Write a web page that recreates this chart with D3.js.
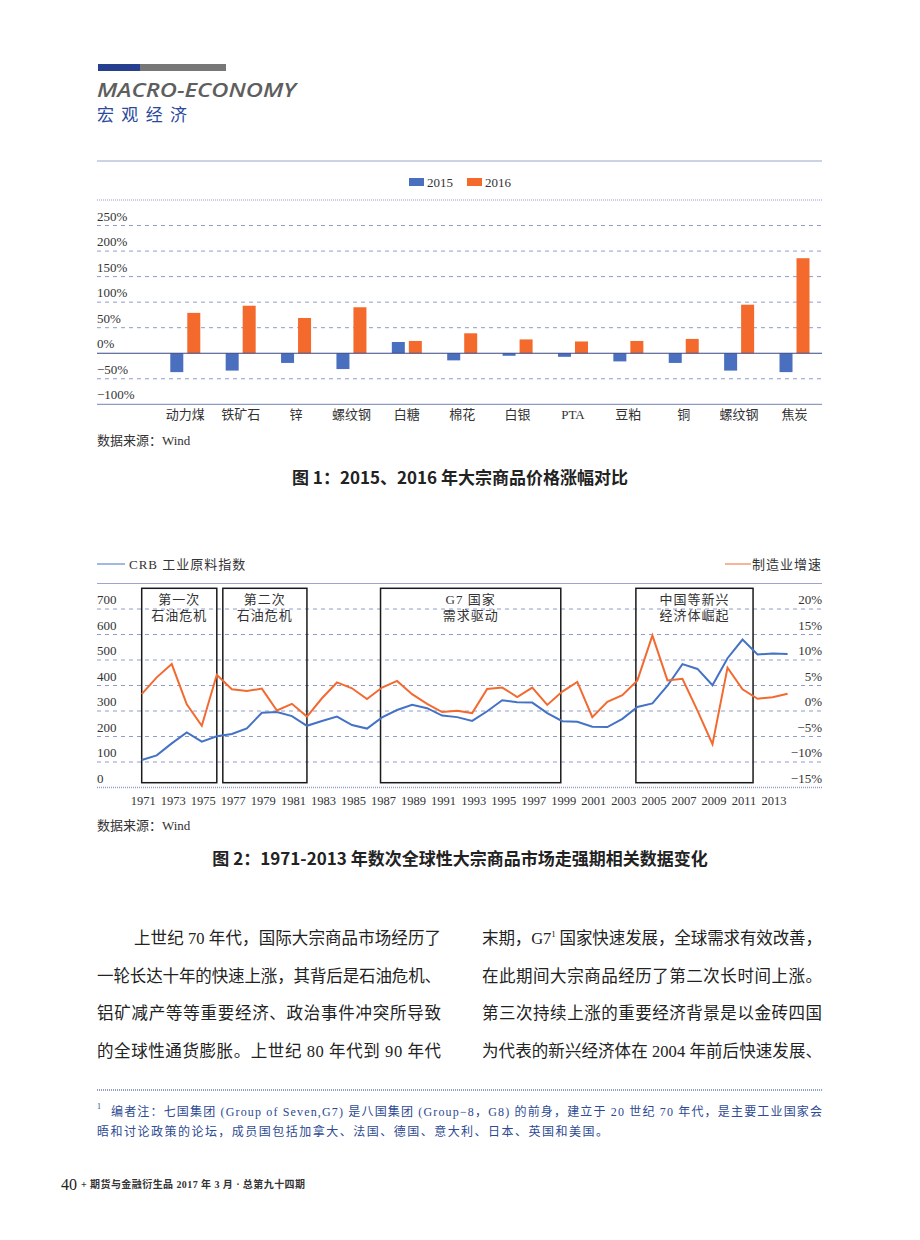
<!DOCTYPE html>
<html>
<head>
<meta charset="utf-8">
<script src="https://cdnjs.cloudflare.com/ajax/libs/d3/7.8.5/d3.min.js"></script>
<style>
  body { margin: 0; background: #fff; }
  svg { display: block; }
  .serif { font-family: "Liberation Serif", "Noto Sans CJK SC", serif; }
  .cjk { font-family: "Liberation Serif", "Noto Sans CJK SC", sans-serif; }
</style>
</head>
<body>
<div id="page"></div>
<script>
// ---- chart 1 data ----
const categories = ['动力煤', '铁矿石', '锌', '螺纹钢', '白糖', '棉花', '白银', 'PTA', '豆粕', '铜', '螺纹钢', '焦炭'];
const seriesNames = ['2015', '2016'];
const v2015 = [-37, -34, -19, -31, 22, -14, -5, -7, -16, -19, -34, -37];
const v2016 = [79, 93, 69, 90, 24, 39, 27, 23, 24, 28, 95, 186];
const pctTicks = [-100, -50, 0, 50, 100, 150, 200, 250];

// ---- chart 2 data ----
const years = [1971, 1972, 1973, 1974, 1975, 1976, 1977, 1978, 1979, 1980,
  1981, 1982, 1983, 1984, 1985, 1986, 1987, 1988, 1989, 1990,
  1991, 1992, 1993, 1994, 1995, 1996, 1997, 1998, 1999, 2000,
  2001, 2002, 2003, 2004, 2005, 2006, 2007, 2008, 2009, 2010,
  2011, 2012, 2013, 2014];
const crb = [108, 126, 173, 216, 180, 201, 210, 232, 293, 296,
  280, 242, 261, 278, 245, 231, 275, 304, 324, 311,
  282, 276, 261, 299, 342, 334, 333, 292, 260, 258,
  238, 237, 269, 316, 330, 399, 484, 465, 401, 507,
  580, 522, 525, 524];
const mfg = [3.3, 6.6, 9.2, 1.3, -2.9, 7.1, 4.25, 3.9, 4.4, 0.1,
  1.4, -1.1, 2.5, 5.6, 4.45, 2.35, 4.6, 5.9, 3.3, 1.4,
  -0.2, 0.06, -0.4, 4.3, 4.6, 2.75, 4.6, 1.2, 3.8, 5.7,
  -1.2, 1.8, 3.1, 6.0, 14.8, 6.0, 6.3, 0.06, -6.5, 8.5,
  4.25, 2.4, 2.7, 3.4];
const xTickYears = [1971, 1973, 1975, 1977, 1979, 1981, 1983, 1985, 1987, 1989, 1991,
  1993, 1995, 1997, 1999, 2001, 2003, 2005, 2007, 2009, 2011, 2013];
const leftTicks = [0, 100, 200, 300, 400, 500, 600, 700];
const rightTicks = [-15, -10, -5, 0, 5, 10, 15, 20];
const periodStart = [1971, 1976.4, 1986.9, 2003.9];
const periodEnd = [1976, 1982, 1998.9, 2011.7];
const periodLine1 = ['第一次', '第二次', 'G7 国家', '中国等新兴'];
const periodLine2 = ['石油危机', '石油危机', '需求驱动', '经济体崛起'];

const blue = '#4472c4', orange = '#f26a30', barOrange = '#f36a2c', barBlue = '#4a6fbf';
const gridCol = '#8e9ccb', textCol = '#333';

const svg = d3.select('#page').append('svg')
  .attr('width', 920).attr('height', 1240);

// ---- page header ----
svg.append('rect').attr('x', 98).attr('y', 64).attr('width', 42).attr('height', 7).attr('fill', '#263f8f');
svg.append('rect').attr('x', 140).attr('y', 64).attr('width', 86).attr('height', 7).attr('fill', '#777');
svg.append('text').attr('x', 97).attr('y', 97)
  .attr('font-family', 'Open Sans, sans-serif').attr('font-style', 'italic').attr('font-weight', 600)
  .attr('font-size', 19).attr('fill', '#5e5e5e')
  .attr('textLength', 199).attr('lengthAdjust', 'spacingAndGlyphs')
  .text('MACRO-ECONOMY');
svg.append('text').attr('x', 97).attr('y', 121)
  .attr('font-family', 'Noto Sans CJK SC, sans-serif').attr('font-size', 17).attr('fill', '#2a4a9c')
  .attr('textLength', 90).attr('lengthAdjust', 'spacing')
  .text('宏观经济');

// ================= chart 1 =================
const g1 = svg.append('g');
const y1 = d3.scaleLinear().domain([-100, 300]).range([404.3, 200]);
const x0 = d3.scaleBand().domain(d3.range(categories.length)).range([157.6, 822.2]);
const bw = x0.bandwidth();
const x1 = d3.scaleBand().domain(seriesNames).range([bw / 2 - 15, bw / 2 + 15]).paddingInner(0.235);

g1.append('line').attr('x1', 97).attr('x2', 822).attr('y1', 161).attr('y2', 161)
  .attr('stroke', '#9aa6cc').attr('stroke-width', 1);
// top dotted line
g1.append('line').attr('x1', 97).attr('x2', 822).attr('y1', y1(300)).attr('y2', y1(300))
  .attr('stroke', gridCol).attr('stroke-width', 1.2).attr('stroke-dasharray', '1,1');
// gridlines
g1.selectAll('.grid1').data(pctTicks.filter(d => d > -100 && d !== 0)).join('line')
  .attr('x1', 97).attr('x2', 822).attr('y1', d => y1(d)).attr('y2', d => y1(d))
  .attr('stroke', gridCol).attr('stroke-dasharray', '4,4');
g1.append('line').attr('x1', 97).attr('x2', 822).attr('y1', y1(-100)).attr('y2', y1(-100))
  .attr('stroke', '#8e9cc4').attr('stroke-width', 1.2);
g1.selectAll('.ylab1').data(pctTicks).join('text')
  .attr('class', 'serif').attr('x', 97).attr('y', d => y1(d) - 5)
  .attr('font-size', 13).attr('fill', textCol)
  .text(d => (d < 0 ? '−' + Math.abs(d) : d) + '%');

// bars
const barData = [];
categories.forEach((c, i) => {
  barData.push({ i, s: '2015', v: v2015[i] });
  barData.push({ i, s: '2016', v: v2016[i] });
});
g1.selectAll('.bar').data(barData).join('rect')
  .attr('x', d => x0(d.i) + x1(d.s))
  .attr('width', x1.bandwidth())
  .attr('y', d => y1(Math.max(0, d.v)))
  .attr('height', d => Math.abs(y1(d.v) - y1(0)))
  .attr('fill', d => d.s === '2015' ? barBlue : barOrange);
g1.append('line').attr('x1', 97).attr('x2', 822).attr('y1', y1(0)).attr('y2', y1(0))
  .attr('stroke', '#3a4785').attr('stroke-width', 1.2);

g1.selectAll('.cat').data(categories).join('text')
  .attr('class', 'cjk').attr('x', (d, i) => x0(i) + bw / 2).attr('y', 419)
  .attr('text-anchor', 'middle').attr('font-size', 13).attr('fill', textCol)
  .text(d => d);

// legend
const leg1 = g1.selectAll('.leg1').data(seriesNames).join('g')
  .attr('transform', (d, i) => `translate(${409 + i * 58},0)`);
leg1.append('rect').attr('x', 0).attr('y', 178).attr('width', 15).attr('height', 8)
  .attr('fill', (d, i) => i === 0 ? barBlue : barOrange);
leg1.append('text').attr('class', 'serif').attr('x', 18).attr('y', 187)
  .attr('font-size', 13).attr('fill', textCol).text(d => d);

svg.append('text').attr('class', 'cjk').attr('x', 97).attr('y', 445)
  .attr('font-size', 13).attr('fill', textCol).text('数据来源：Wind');
svg.append('text').attr('x', 460).attr('y', 484).attr('text-anchor', 'middle')
  .attr('font-family', 'Noto Sans CJK SC, sans-serif').attr('font-weight', 700)
  .attr('font-size', 17).attr('fill', '#222')
  .text('图 1：2015、2016 年大宗商品价格涨幅对比');

// ================= chart 2 =================
const g2 = svg.append('g');
const x2 = d3.scaleLinear().domain([1971, 2014]).range([141.7, 787.6]);
const yL = d3.scaleLinear().domain([0, 800]).range([787.5, 583.5]);
const yR = d3.scaleLinear().domain([-15, 25]).range([787.5, 583.5]);

g2.append('line').attr('x1', 97).attr('x2', 822).attr('y1', yL(800)).attr('y2', yL(800))
  .attr('stroke', '#9aa6cc').attr('stroke-width', 1);
g2.selectAll('.grid2').data(leftTicks.filter(d => d > 0)).join('line')
  .attr('x1', 97).attr('x2', 822).attr('y1', d => yL(d)).attr('y2', d => yL(d))
  .attr('stroke', gridCol).attr('stroke-dasharray', '4,4');
g2.append('line').attr('x1', 97).attr('x2', 822).attr('y1', yL(0)).attr('y2', yL(0))
  .attr('stroke', gridCol).attr('stroke-width', 1.5).attr('stroke-dasharray', '1,1');

g2.selectAll('.ylabL').data(leftTicks).join('text')
  .attr('class', 'serif').attr('x', 97).attr('y', d => yL(d) - 5)
  .attr('font-size', 13).attr('fill', textCol).text(d => d);
g2.selectAll('.ylabR').data(rightTicks).join('text')
  .attr('class', 'serif').attr('x', 822).attr('y', d => yR(d) - 5).attr('text-anchor', 'end')
  .attr('font-size', 13).attr('fill', textCol)
  .text(d => (d < 0 ? '−' + Math.abs(d) : d) + '%');

g2.selectAll('.xlab').data(xTickYears).join('text')
  .attr('class', 'serif').attr('x', d => x2(d) + 1.5).attr('y', 805)
  .attr('text-anchor', 'middle').attr('font-size', 12.5).attr('fill', textCol).text(d => d);

// period boxes
g2.selectAll('.box').data(periodStart).join('rect')
  .attr('x', d => x2(d)).attr('width', (d, i) => x2(periodEnd[i]) - x2(d))
  .attr('y', 588.3).attr('height', 194.4)
  .attr('fill', 'none').attr('stroke', '#1a1a1a').attr('stroke-width', 1.5);
g2.selectAll('.boxT1').data(periodLine1).join('text')
  .attr('class', 'cjk').attr('x', (d, i) => (x2(periodStart[i]) + x2(periodEnd[i])) / 2)
  .attr('y', 604).attr('text-anchor', 'middle').attr('font-size', 13).attr('fill', textCol)
  .attr('letter-spacing', 1).text(d => d);
g2.selectAll('.boxT2').data(periodLine2).join('text')
  .attr('class', 'cjk').attr('x', (d, i) => (x2(periodStart[i]) + x2(periodEnd[i])) / 2)
  .attr('y', 620).attr('text-anchor', 'middle').attr('font-size', 13).attr('fill', textCol)
  .attr('letter-spacing', 1).text(d => d);

// lines
g2.append('path').datum(years)
  .attr('d', d3.line().x(d => x2(d)).y((d, i) => yL(crb[i])))
  .attr('fill', 'none').attr('stroke', blue).attr('stroke-width', 2);
g2.append('path').datum(years)
  .attr('d', d3.line().x(d => x2(d)).y((d, i) => yR(mfg[i])))
  .attr('fill', 'none').attr('stroke', orange).attr('stroke-width', 2);

// legend
g2.append('line').attr('x1', 97).attr('x2', 125).attr('y1', 564).attr('y2', 564)
  .attr('stroke', blue).attr('stroke-width', 1);
g2.append('text').attr('class', 'cjk').attr('x', 129).attr('y', 569)
  .attr('font-size', 13).attr('fill', textCol).attr('letter-spacing', 1).text('CRB 工业原料指数');
g2.append('line').attr('x1', 725).attr('x2', 751).attr('y1', 564).attr('y2', 564)
  .attr('stroke', orange).attr('stroke-width', 1);
g2.append('text').attr('class', 'cjk').attr('x', 822).attr('y', 569).attr('text-anchor', 'end')
  .attr('font-size', 13).attr('fill', textCol).attr('letter-spacing', 1).text('制造业增速');

svg.append('text').attr('class', 'cjk').attr('x', 97).attr('y', 830)
  .attr('font-size', 13).attr('fill', textCol).text('数据来源：Wind');
svg.append('text').attr('x', 460).attr('y', 865).attr('text-anchor', 'middle')
  .attr('font-family', 'Noto Sans CJK SC, sans-serif').attr('font-weight', 700)
  .attr('font-size', 17).attr('fill', '#222')
  .text('图 2：1971-2013 年数次全球性大宗商品市场走强期相关数据变化');

// ================= body text =================
const leftLines = ['上世纪 70 年代，国际大宗商品市场经历了', '一轮长达十年的快速上涨，其背后是石油危机、',
  '铝矿减产等等重要经济、政治事件冲突所导致', '的全球性通货膨胀。上世纪 80 年代到 90 年代'];
const rightLines = ['在此期间大宗商品经历了第二次长时间上涨。', '第三次持续上涨的重要经济背景是以金砖四国',
  '为代表的新兴经济体在 2004 年前后快速发展、'];
const lineY = [944, 982, 1019, 1057];
const bodyFont = '"Liberation Serif", "Noto Sans CJK SC", serif';

leftLines.forEach((t, i) => {
  const x = i === 0 ? 134 : 97;
  svg.append('text').attr('x', x).attr('y', lineY[i])
    .attr('font-family', bodyFont).attr('font-size', 16.5).attr('fill', '#222')
    .attr('textLength', 441 - x).attr('lengthAdjust', 'spacing').text(t);
});
const r1 = svg.append('text').attr('x', 482).attr('y', lineY[0])
  .attr('font-family', bodyFont).attr('font-size', 16.5).attr('fill', '#222')
  .attr('textLength', 340).attr('lengthAdjust', 'spacing');
r1.append('tspan').text('末期，G7');
r1.append('tspan').attr('font-size', 9).attr('dy', -7).text('1');
r1.append('tspan').attr('dy', 7).text(' 国家快速发展，全球需求有效改善，');
rightLines.forEach((t, i) => {
  svg.append('text').attr('x', 482).attr('y', lineY[i + 1])
    .attr('font-family', bodyFont).attr('font-size', 16.5).attr('fill', '#222')
    .attr('textLength', 340).attr('lengthAdjust', 'spacing').text(t);
});

// footnote
svg.append('line').attr('x1', 97).attr('x2', 822).attr('y1', 1090).attr('y2', 1090)
  .attr('stroke', '#6e7fb8').attr('stroke-width', 1.5).attr('stroke-dasharray', '1,1');
const noteCol = '#2d4a92';
svg.append('text').attr('x', 97).attr('y', 1109).attr('font-family', bodyFont)
  .attr('font-size', 8).attr('fill', noteCol).text('1');
svg.append('text').attr('x', 111).attr('y', 1116).attr('font-family', bodyFont)
  .attr('font-size', 12).attr('fill', noteCol)
  .attr('textLength', 711).attr('lengthAdjust', 'spacing')
  .text('编者注：七国集团 (Group of Seven,G7) 是八国集团 (Group−8，G8) 的前身，建立于 20 世纪 70 年代，是主要工业国家会');
svg.append('text').attr('x', 97).attr('y', 1136).attr('font-family', bodyFont)
  .attr('font-size', 12).attr('fill', noteCol)
  .attr('textLength', 511).attr('lengthAdjust', 'spacing')
  .text('晤和讨论政策的论坛，成员国包括加拿大、法国、德国、意大利、日本、英国和美国。');

// footer
svg.append('text').attr('x', 61).attr('y', 1190).attr('font-family', '"Liberation Serif", serif')
  .attr('font-size', 16).attr('fill', '#222').text('40');
svg.append('text').attr('x', 81).attr('y', 1188).attr('font-family', bodyFont)
  .attr('font-size', 10).attr('font-weight', 700).attr('fill', '#333')
  .attr('textLength', 224).attr('lengthAdjust', 'spacing')
  .text('+ 期货与金融衍生品 2017 年 3 月 · 总第九十四期');
</script>
</body>
</html>
